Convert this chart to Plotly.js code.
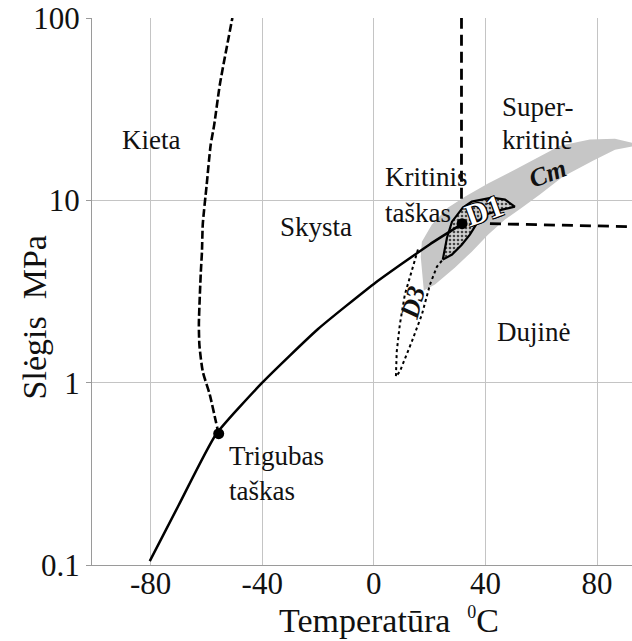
<!DOCTYPE html>
<html>
<head>
<meta charset="utf-8">
<script src="https://cdn.plot.ly/plotly-3.0.1.min.js"></script>
<style>html,body{margin:0;padding:0;background:#fff;}#chart{width:632px;height:641px;}</style>
</head>
<body>
<div id="chart"></div>
<script>
// ---- data (temperature °C, pressure MPa) ----
const boilT = [-80.3, -70, -56.6, -40, -20, 0, 20, 31.5];
const boilP = [0.105, 0.212, 0.52, 1.0, 1.97, 3.48, 5.73, 7.4];

const meltT = [-55.6, -56.6, -58.8, -61.3, -62.5, -62.7, -62.0, -61.6, -61.3, -59.9, -58.5, -57.2, -55.2, -50.7];
const meltP = [0.52, 0.61, 0.86, 1.15, 1.6, 2.1, 4.06, 5.2, 7.4, 12.2, 20, 26, 43, 100];

const critVertT = [31.4, 31.4];
const critVertP = [10.2, 100];
const critHorT = [41.6, 92.5];
const critHorP = [7.45, 7.17];

const cmT = [16.8, 17.2, 20.8, 26.5, 32.6, 40.9, 50.5, 59.5, 66.7, 77.4, 86.4, 92.5, 92.5, 86.4, 78.5, 67.7, 59.5, 53.0, 47.0, 40.9, 35.1, 29.0, 21.9, 17.9, 16.8];
const cmP = [4.91, 5.93, 7.36, 9.12, 10.47, 12.35, 14.73, 17.37, 19.95, 21.53, 21.79, 20.72, 19.71, 18.97, 16.51, 13.49, 10.75, 9.12, 7.84, 6.48, 5.23, 4.27, 3.45, 3.20, 4.91];

const d1T = [24.7, 26.2, 28.0, 31.9, 35.1, 42.3, 47.0, 50.5, 45.9, 39.8, 37.3, 34.4, 31.5, 28.0, 24.7];
const d1P = [4.73, 6.24, 7.64, 9.12, 9.84, 10.35, 10.09, 9.23, 8.89, 8.35, 7.64, 6.48, 5.71, 5.04, 4.73];

const d3T = [15.8, 13.6, 11.1, 9.3, 8.2, 7.9, 9.3, 13.6, 17.2, 20.1, 22.6, 24.7];
const d3P = [5.37, 4.06, 3.04, 2.08, 1.48, 1.08, 1.15, 1.68, 2.36, 3.45, 4.33, 4.73];

const pointT = [-55.6, 31.6];   // triple point, critical point
const pointP = [0.525, 7.45];

const tempTicks = [-80, -40, 0, 40, 80];
const tempTickText = ['-80', '-40', '0', '40', '80'];
const pressTicks = [0.1, 1, 10, 100];
const pressTickText = ['0.1', '1', '10', '100'];

// ---- chart ----
const SERIF = 'Liberation Serif, Times New Roman, serif';
const L = Math.log10;

const traces = [
  {x: cmT, y: cmP, mode: 'lines', fill: 'toself', fillcolor: '#c6c6c6', line: {width: 0, color: '#c6c6c6'}, hoverinfo: 'skip'},
  {x: d1T, y: d1P, mode: 'lines', fill: 'toself', fillcolor: '#bdbdbd',
   fillpattern: {shape: '.', bgcolor: '#d0d0d0', fgcolor: '#444', size: 4, solidity: 0.35},
   line: {width: 2.2, color: '#000'}, hoverinfo: 'skip'},
  {x: d3T, y: d3P, mode: 'lines', line: {width: 2, color: '#000', dash: 'dot'}, hoverinfo: 'skip'},
  {x: boilT, y: boilP, mode: 'lines', line: {width: 2.5, color: '#000', shape: 'spline', smoothing: 0.5}, hoverinfo: 'skip'},
  {x: meltT, y: meltP, mode: 'lines', line: {width: 2.6, color: '#000', dash: '8px,3px', shape: 'spline', smoothing: 0.6}, hoverinfo: 'skip'},
  {x: critVertT, y: critVertP, mode: 'lines', line: {width: 2.8, color: '#000', dash: '11px,6px'}, hoverinfo: 'skip'},
  {x: critHorT, y: critHorP, mode: 'lines', line: {width: 2.8, color: '#000', dash: '11px,7px'}, hoverinfo: 'skip'},
  {x: pointT, y: pointP, mode: 'markers', marker: {size: 11, color: '#000'}, hoverinfo: 'skip'}
];

function lab(text, t, p, opts) {
  return Object.assign({text: text, x: t, y: L(p) - 0.022, xref: 'x', yref: 'y', showarrow: false,
    font: {family: SERIF, size: 27, color: '#111'}}, opts || {});
}

const annotations = [
  lab('Kieta', -79.9, 22.4),
  lab('Skysta', -20.8, 7.55),
  lab('Kritinis', 3.2, 14.2, {xanchor: 'left'}),
  lab('taškas', 3.2, 9.0, {xanchor: 'left'}),
  lab('Super-', 45.2, 34.4, {xanchor: 'left'}),
  lab('kritinė', 45.2, 22.4, {xanchor: 'left'}),
  lab('Dujinė', 43.4, 2.0, {xanchor: 'left'}),
  lab('Trigubas', -52.7, 0.418, {xanchor: 'left'}),
  lab('taškas', -52.7, 0.269, {xanchor: 'left'}),
  lab('<b><i>Cm</i></b>', 62.4, 14.7, {textangle: -20, font: {family: SERIF, size: 26, color: '#111'}}),
  lab('<b>D1</b>', 39.4, 9.3, {textangle: -20,
    font: {family: SERIF, size: 31, color: '#fff',
      shadow: '1px 1px 0 #000, -1px -1px 0 #000, 1px -1px 0 #000, -1px 1px 0 #000'}}),
  lab('<b><i>D3</i></b>', 14.0, 2.9, {textangle: -75, font: {family: SERIF, size: 26, color: '#111'}}),
  {text: 'Temperatūra  <sup><span style="font-size:18px">0</span></sup>C', xref: 'paper', yref: 'paper', x: 0.55, y: -0.102,
   xanchor: 'center', yanchor: 'middle', showarrow: false, font: {family: SERIF, size: 34, color: '#111'}},
  {text: 'Slėgis  MPa', xref: 'paper', yref: 'paper', x: -0.107, y: 0.453, textangle: -90,
   xanchor: 'center', yanchor: 'middle', showarrow: false, font: {family: SERIF, size: 34, color: '#111'}}
];

const layout = {
  width: 632, height: 641,
  margin: {l: 92, r: 0, t: 18, b: 76},
  paper_bgcolor: '#fff', plot_bgcolor: '#fff',
  showlegend: false,
  xaxis: {
    range: [-101, 92.5], tickvals: tempTicks, ticktext: tempTickText, showgrid: true, gridcolor: '#c4c4c4', gridwidth: 1,
    zeroline: false, showline: true, linecolor: '#9a9a9a', linewidth: 1, ticks: '', ticklabelstandoff: -9,
    tickfont: {family: SERIF, size: 31, color: '#111'}, fixedrange: true
  },
  yaxis: {
    type: 'log', range: [-1, 2], tickvals: pressTicks, ticktext: pressTickText,
    showgrid: true, gridcolor: '#c4c4c4', gridwidth: 1, zeroline: false,
    showline: true, linecolor: '#9a9a9a', linewidth: 1, ticks: 'outside', ticklen: 5, tickcolor: '#9a9a9a',
    tickfont: {family: SERIF, size: 31, color: '#111'}, fixedrange: true
  },
  annotations: annotations
};

Plotly.newPlot('chart', traces, layout, {staticPlot: true, displayModeBar: false});
</script>
</body>
</html>
